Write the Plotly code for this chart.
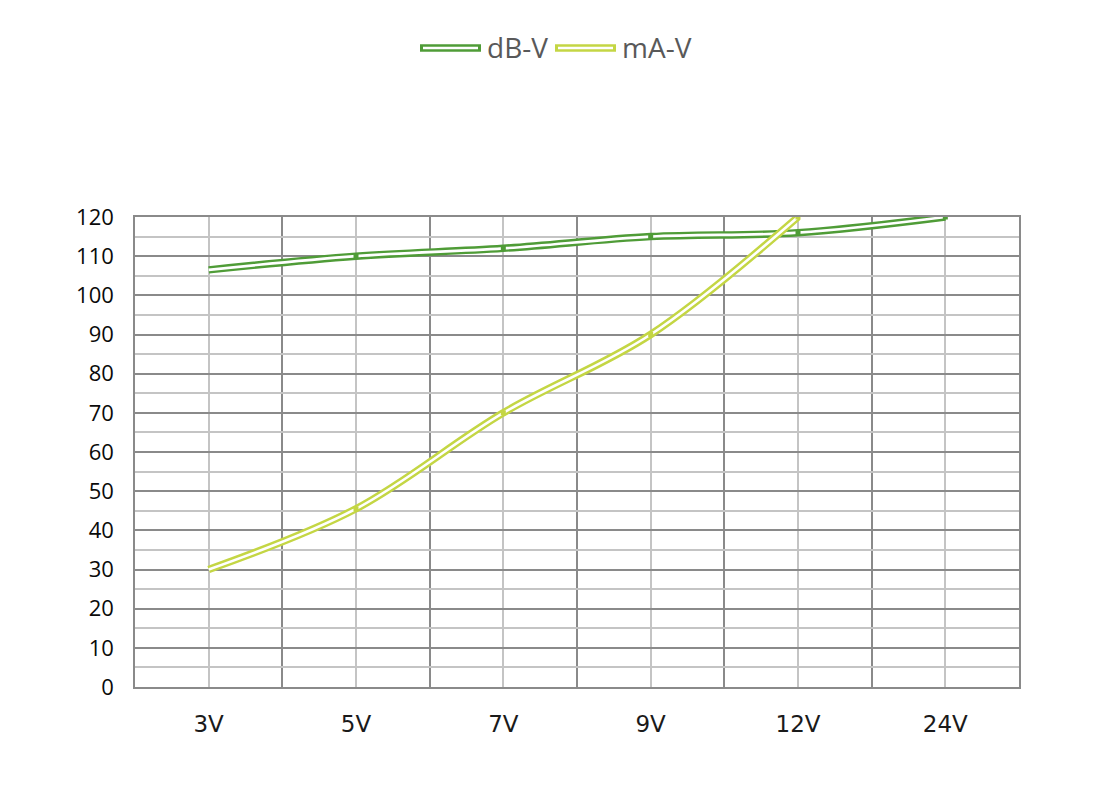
import plotly.graph_objects as go

categories = ["3V", "5V", "7V", "9V", "12V", "24V"]
db_values = [106.5, 110, 112, 115, 116, 120]
ma_values = [30, 45.5, 70, 90, 120, None]
series_names = ["dB-V", "mA-V"]
y_ticks = list(range(0, 121, 10))

DB_COLOR = "#4F9C37"
MA_COLOR = "#C4D644"

x_pos = list(range(len(categories)))

fig = go.Figure()

for vals, color, name in [(db_values, DB_COLOR, series_names[0]), (ma_values, MA_COLOR, series_names[1])]:
    xs = [x for x, v in zip(x_pos, vals) if v is not None]
    ys = [v for v in vals if v is not None]
    fig.add_trace(go.Scatter(x=xs, y=ys, mode="lines", name=name,
                             line=dict(color=color, width=7.5, shape="spline", smoothing=1.0),
                             showlegend=False, hoverinfo="skip"))
    fig.add_trace(go.Scatter(x=xs, y=ys, mode="lines", name=name,
                             line=dict(color="white", width=2.6, shape="spline", smoothing=1.0),
                             showlegend=False))
    fig.add_trace(go.Scatter(x=xs[1:], y=ys[1:], mode="markers", name=name,
                             marker=dict(color=color, size=5, symbol="square"),
                             showlegend=False, hoverinfo="skip"))

# Legend samples (double line) drawn in paper coordinates
x0_px, x1_px, y0_px, y1_px = 135, 1019, 217, 687
def px_x(p):
    return (p - x0_px) / (x1_px - x0_px)
def px_y(p):
    return (y1_px - p) / (y1_px - y0_px)

shapes = []
annotations = []
legend_items = [(series_names[0], DB_COLOR, 420, 481, 485), (series_names[1], MA_COLOR, 555, 616, 620)]
for name, color, a, b, tx in legend_items:
    shapes.append(dict(type="line", xref="paper", yref="paper", x0=px_x(a), x1=px_x(b),
                       y0=px_y(48), y1=px_y(48), line=dict(color=color, width=7.5)))
    shapes.append(dict(type="line", xref="paper", yref="paper", x0=px_x(a + 3), x1=px_x(b - 3),
                       y0=px_y(48), y1=px_y(48), line=dict(color="white", width=2.6)))
    annotations.append(dict(text=name, xref="paper", yref="paper", x=px_x(tx), y=px_y(47),
                            xanchor="left", yanchor="middle", showarrow=False,
                            font=dict(family="Open Sans", size=28, color="#595959")))

fig.update_layout(
    width=1098, height=796,
    margin=dict(l=127, r=87, t=209, b=117),
    paper_bgcolor="white", plot_bgcolor="white",
    shapes=shapes, annotations=annotations,
    showlegend=False,
    xaxis=dict(range=[-0.5, len(categories) - 0.5], tickmode="array", tickvals=x_pos,
               ticktext=categories, showgrid=True, gridcolor="#C4C4C4", gridwidth=1.5,
               zeroline=False, showline=True, linecolor="#8A8A8A", linewidth=1.5, mirror=True,
               ticks="", ticklen=0, tickfont=dict(family="DejaVu Sans", size=23, color="#1a1a1a"),
               minor=dict(tick0=0.5, dtick=1, showgrid=True, gridcolor="#8A8A8A", gridwidth=1.5),
               ),
    yaxis=dict(range=[0, 120], tickmode="array", tickvals=y_ticks,
               showgrid=True, gridcolor="#8A8A8A", gridwidth=1.5, zeroline=False,
               showline=True, linecolor="#8A8A8A", linewidth=1.5, mirror=True,
               ticks="", tickfont=dict(family="Open Sans", size=22, color="#0a0a0a"),
               minor=dict(tick0=5, dtick=10, showgrid=True, gridcolor="#C4C4C4", gridwidth=1.5)),
)
fig.update_xaxes(ticklabelstandoff=16)
fig.update_yaxes(ticklabelstandoff=15)

fig.write_html("out.html")
